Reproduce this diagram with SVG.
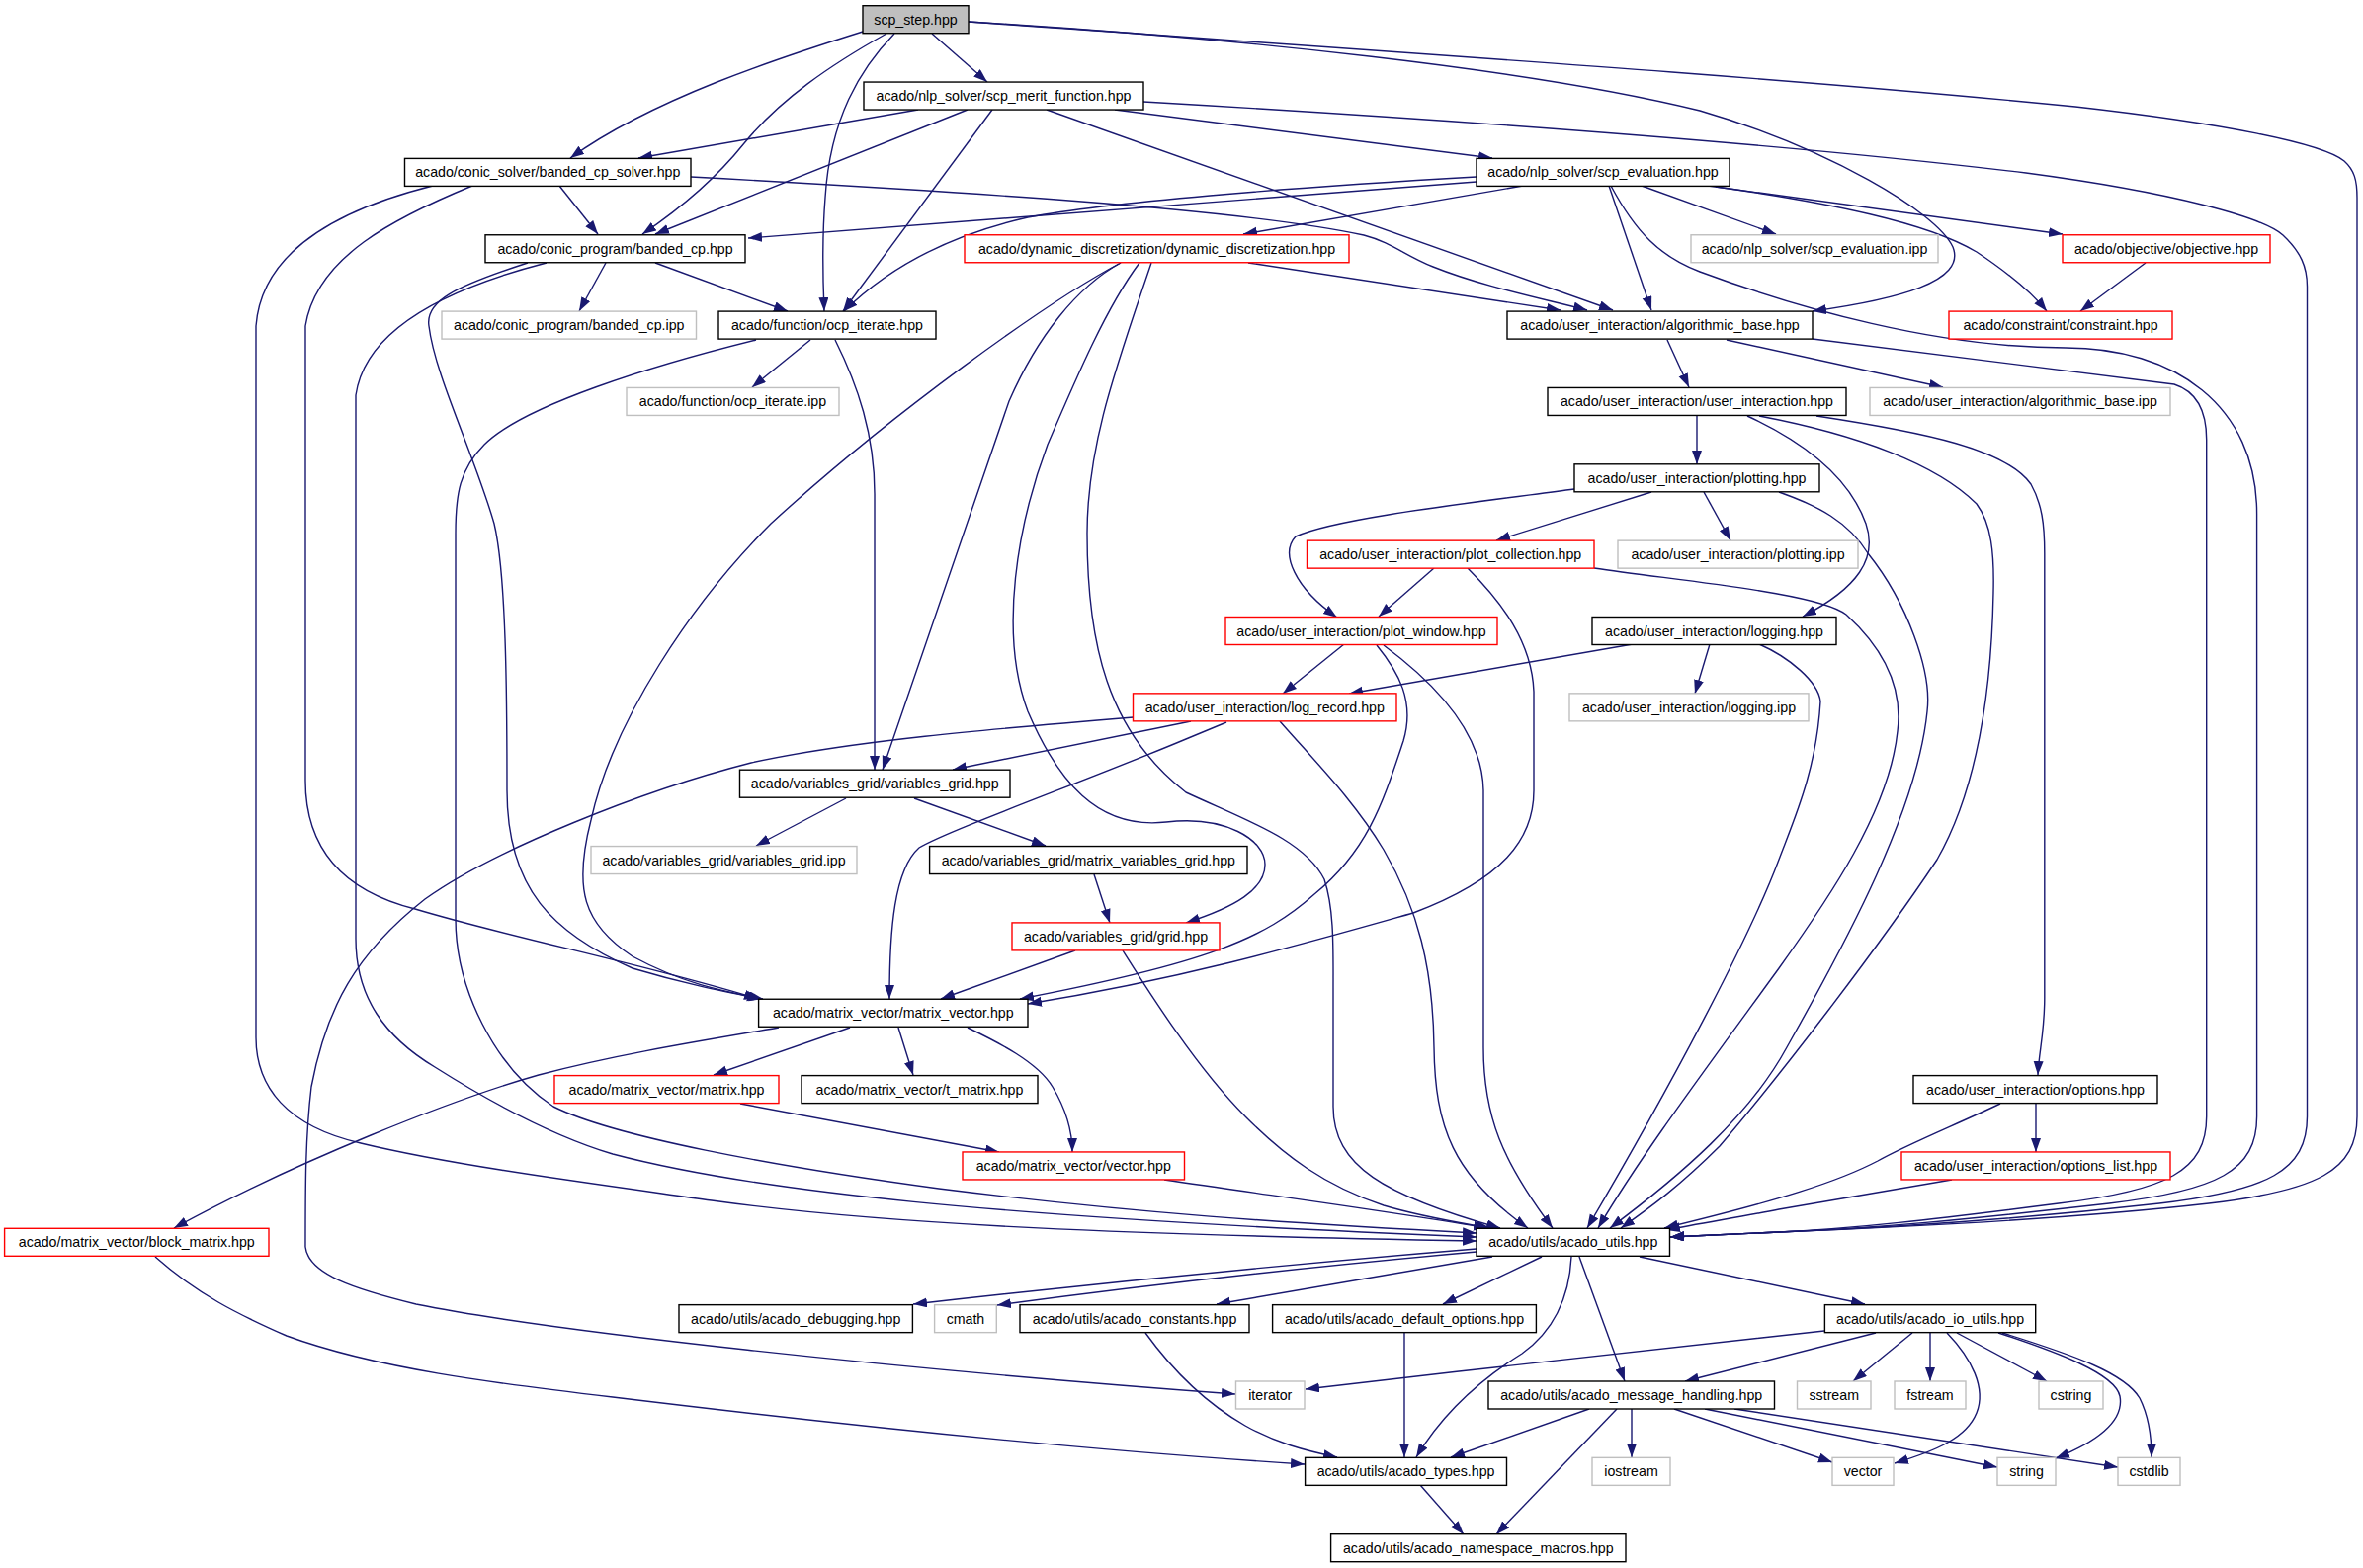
<svg xmlns="http://www.w3.org/2000/svg" width="2391" height="1587" viewBox="0 0 2391 1587">
<style>
.n rect{fill:#fff;stroke:#000;stroke-width:1.4}
.r rect{stroke:#ff0000}
.g rect{stroke:#bfbfbf}
.root rect{fill:#bfbfbf}
text{font-family:"Liberation Sans",Arial,sans-serif;font-size:14.2px;text-anchor:middle;fill:#000}
.e{fill:none;stroke:#191970;stroke-width:1.4;marker-end:url(#a)}
</style>
<defs>
<marker id="a" markerUnits="userSpaceOnUse" markerWidth="15" markerHeight="11" refX="14" refY="5" orient="auto"><path d="M0,0 L14,5 L0,10 z" fill="#191970"/></marker>
</defs>
<rect width="2391" height="1587" fill="#fff"/>
<g id="edges">
<path class="e" d="M873,32 C790,58 660,100 577,160"/>
<path class="e" d="M897,34 C840,66 790,100 753,145 C725,180 690,210 650,237"/>
<path class="e" d="M905,34 C870,70 840,120 835,200 C831,250 833,290 834,315"/>
<path class="e" d="M943,34 L999,83"/>
<path class="e" d="M980,22 C1250,38 1550,70 1720,112 C1850,150 1960,215 1976,250 C1990,285 1920,303 1834,315"/>
<path class="e" d="M980,22 C1400,52 1800,78 2100,108 C2250,125 2350,145 2372,163 C2382,172 2385,182 2385,200 L2385,1130 C2385,1185 2345,1205 2235,1218 C2085,1235 1900,1243 1800,1247 L1690,1252"/>
<path class="e" d="M1157,103 C1450,120 1800,145 2050,175 C2200,195 2290,220 2310,238 C2328,255 2334.5,270 2334.5,290 L2334.5,1130 C2334.5,1185 2295,1205 2185,1218 C2035,1235 1900,1243 1800,1247 L1690,1252"/>
<path class="e" d="M1630,188 C1655,235 1680,260 1720,275 C1820,312 1960,352 2090,352 C2200,352 2283.6,410 2283.6,520 L2283.6,1130 C2283.6,1185 2244,1205 2134,1218 C1984,1235 1900,1243 1800,1247 L1690,1252"/>
<path class="e" d="M1834,343 L2200,389 C2222,396 2232.7,415 2232.7,445 L2232.7,1130 C2232.7,1185 2193,1205 2083,1218 C1950,1235 1880,1243 1800,1247 L1690,1252"/>
<path class="e" d="M1838,421 C1950,438 2030,455 2055,490 C2066,510 2068.8,530 2068.8,560 L2068.8,1010 C2068.8,1045 2063,1065 2062,1088"/>
<path class="e" d="M929,111 L646,160"/>
<path class="e" d="M979,111 L663,237"/>
<path class="e" d="M1004,111 L853,315"/>
<path class="e" d="M1128,111 L1510,160"/>
<path class="e" d="M1059,111 L1632,314"/>
<path class="e" d="M566,188 L605,237"/>
<path class="e" d="M699,179 C950,193 1250,210 1380,238 C1410,246 1420,258 1450,270 C1500,290 1560,302 1606,314"/>
<path class="e" d="M478,188 C400,220 320,260 309,330 L309,790 C309,870 360,905 420,920 C520,950 650,975 767,1011"/>
<path class="e" d="M438,188 C350,210 265,250 259,330 L259,1050 C259,1100 290,1140 365,1157 C460,1180 600,1198 720,1215 C900,1240 1150,1250 1494,1256"/>
<path class="e" d="M613,266 L586,315"/>
<path class="e" d="M663,266 L797,315"/>
<path class="e" d="M534,266 C460,290 430,305 434,330 C440,380 480,460 500,530 C512,580 513,700 513,800 C513,900 560,945 640,980 C690,995 730,1003 770,1011"/>
<path class="e" d="M553,266 C460,290 370,330 360,400 L360,950 C360,1010 390,1050 440,1080 C500,1118 560,1150 620,1168 C760,1205 1000,1232 1494,1252"/>
<path class="e" d="M820,344 L761,392"/>
<path class="e" d="M845,344 C868,390 885,440 885,500 L885,779"/>
<path class="e" d="M765,344 C660,370 530,410 490,450 C465,475 461,500 461,540 L461,930 C461,1000 500,1080 560,1120 C620,1150 780,1180 950,1203 C1150,1228 1300,1238 1494,1248"/>
<path class="e" d="M1263,266 L1579,314"/>
<path class="e" d="M1134,266 C1060,305 900,420 780,530 C700,610 620,730 598,830 C580,900 590,935 640,968 C690,995 730,1003 772,1011"/>
<path class="e" d="M1134,266 C1090,290 1050,340 1021,406 L893,779"/>
<path class="e" d="M1153,266 C1120,310 1090,380 1060,450 C1030,530 1010,640 1040,720 C1070,790 1110,840 1180,832 C1240,825 1280,850 1280,875 C1280,900 1250,918 1200,934"/>
<path class="e" d="M1165,266 C1130,370 1100,450 1100,540 C1100,650 1120,740 1200,802 C1260,830 1320,850 1340,890 C1350,920 1349,960 1349,1000 L1349,1120 C1349,1180 1400,1210 1518,1243"/>
<path class="e" d="M1205,730 L964,779"/>
<path class="e" d="M1241,731 L1200,748 C1100,790 960,840 930,858 C905,880 900,940 900,1011"/>
<path class="e" d="M1147,726 C1000,738 860,750 760,772 C650,800 500,860 430,910 C360,965 330,1020 315,1100 C309,1150 309,1200 309,1262 C312,1290 360,1305 421,1320 C560,1348 900,1385 1250,1411"/>
<path class="e" d="M1295,730 C1330,770 1370,810 1400,860 C1435,920 1450,980 1451,1060 C1452,1140 1470,1190 1546,1243"/>
<path class="e" d="M1360,652 L1298,702"/>
<path class="e" d="M1393,653 C1415,680 1432,710 1420,750 C1400,810 1385,860 1330,905 C1280,950 1220,975 1032,1011"/>
<path class="e" d="M1400,653 C1450,690 1500,740 1501,800 L1501,1060 C1501,1130 1520,1175 1571,1243"/>
<path class="e" d="M1451,575 L1395,624"/>
<path class="e" d="M1485,575 C1520,610 1550,650 1552,700 L1552,800 C1552,850 1520,890 1430,924 C1320,955 1200,990 1040,1016"/>
<path class="e" d="M1613,575 C1700,588 1840,600 1868,622 C1910,660 1925,700 1920,740 C1912,820 1850,910 1800,980 C1720,1090 1660,1170 1617,1243"/>
<path class="e" d="M1593,495 C1480,510 1350,525 1311,543 C1295,560 1310,595 1353,625"/>
<path class="e" d="M1671,498 L1514,547"/>
<path class="e" d="M1724,498 L1751,547"/>
<path class="e" d="M1800,498 C1840,512 1870,528 1890,560 C1930,610 1955,680 1950,720 C1940,820 1870,950 1808,1060 C1770,1130 1700,1190 1629,1243"/>
<path class="e" d="M1652,652 L1365,702"/>
<path class="e" d="M1730,652 L1715,702"/>
<path class="e" d="M1780,652 C1810,665 1840,690 1842,710 C1838,780 1815,830 1800,870 C1770,950 1690,1100 1606,1243"/>
<path class="e" d="M1717,421 L1717,470"/>
<path class="e" d="M1768,421 C1820,445 1870,480 1888,530 C1900,565 1880,595 1824,624"/>
<path class="e" d="M1780,421 C1880,440 1960,470 2000,510 C2015,530 2018,560 2017,600 C2015,700 2000,800 1960,870 C1900,960 1800,1090 1740,1160 C1700,1200 1670,1222 1640,1243"/>
<path class="e" d="M1687,344 L1709,392"/>
<path class="e" d="M1747,344 L1966,392"/>
<path class="e" d="M1494,184 L757,241"/>
<path class="e" d="M1494,179 C1300,190 1120,205 1040,220 C960,238 900,270 854,315"/>
<path class="e" d="M1541,188 L1258,237"/>
<path class="e" d="M1628,188 L1671,314"/>
<path class="e" d="M1661,188 L1797,237"/>
<path class="e" d="M1728,188 L2087,237"/>
<path class="e" d="M1736,189 C1850,205 1950,225 2000,255 C2030,275 2055,295 2071,315"/>
<path class="e" d="M2171,266 L2105,315"/>
<path class="e" d="M1088,962 L952,1011"/>
<path class="e" d="M1136,962 C1160,1000 1210,1080 1260,1130 C1300,1170 1340,1200 1400,1220 C1440,1232 1480,1238 1508,1243"/>
<path class="e" d="M856,808 L765,856"/>
<path class="e" d="M925,808 L1058,856"/>
<path class="e" d="M1107,885 L1123,934"/>
<path class="e" d="M860,1040 L722,1088"/>
<path class="e" d="M909,1040 L924,1088"/>
<path class="e" d="M979,1040 C1010,1055 1050,1075 1065,1100 C1080,1125 1085,1145 1085,1166"/>
<path class="e" d="M788,1040 C700,1055 620,1068 545,1088 C460,1112 300,1175 176,1243"/>
<path class="e" d="M749,1117 L1011,1166"/>
<path class="e" d="M1178,1194 C1300,1212 1420,1228 1505,1243"/>
<path class="e" d="M157,1272 C200,1310 240,1330 290,1352 C380,1385 500,1400 620,1414 C850,1442 1100,1468 1320,1482"/>
<path class="e" d="M1494,1264 C1300,1280 1100,1300 924,1320"/>
<path class="e" d="M1494,1267 C1350,1280 1200,1295 1009,1321"/>
<path class="e" d="M1510,1272 L1231,1320"/>
<path class="e" d="M1560,1272 L1460,1320"/>
<path class="e" d="M1590,1272 C1588,1310 1575,1345 1540,1370 C1500,1395 1460,1430 1433,1475"/>
<path class="e" d="M1598,1272 L1644,1398"/>
<path class="e" d="M1659,1272 L1887,1320"/>
<path class="e" d="M1846,1347 C1700,1362 1500,1385 1321,1406"/>
<path class="e" d="M1898,1349 L1705,1398"/>
<path class="e" d="M1935,1349 L1875,1398"/>
<path class="e" d="M1953,1349 L1953,1398"/>
<path class="e" d="M1970,1349 C1995,1375 2010,1405 2000,1430 C1990,1455 1960,1468 1917,1481"/>
<path class="e" d="M1980,1349 L2071,1398"/>
<path class="e" d="M2022,1349 C2080,1368 2140,1390 2145,1413 C2150,1440 2120,1460 2080,1476"/>
<path class="e" d="M2026,1349 C2100,1372 2150,1390 2165,1415 C2175,1435 2177,1455 2177,1475"/>
<path class="e" d="M1608,1426 L1468,1475"/>
<path class="e" d="M1636,1426 L1514,1553"/>
<path class="e" d="M1651,1426 L1651,1475"/>
<path class="e" d="M1694,1426 L1854,1480"/>
<path class="e" d="M1725,1426 L2021,1485"/>
<path class="e" d="M1755,1426 L2143,1485"/>
<path class="e" d="M1437,1503 L1481,1553"/>
<path class="e" d="M1421,1349 L1421,1475"/>
<path class="e" d="M1159,1349 C1185,1385 1220,1420 1260,1443 C1290,1460 1320,1468 1353,1475"/>
<path class="e" d="M2060,1117 L2060,1166"/>
<path class="e" d="M2024,1117 C1980,1138 1930,1158 1900,1175 C1860,1196 1800,1215 1684,1243"/>
<path class="e" d="M1975,1194 L1800,1224 C1760,1232 1720,1238 1686,1245"/>
</g>
<g id="node-scp_step" class="n root"><rect x="873" y="5.7" width="107" height="28"/><text x="926.5" y="24.7">scp_step.hpp</text></g>
<g id="node-merit" class="n"><rect x="874" y="83.05" width="283" height="28"/><text x="1015.5" y="102.05">acado/nlp_solver/scp_merit_function.hpp</text></g>
<g id="node-solver" class="n"><rect x="409.5" y="160.4" width="289.5" height="28"/><text x="554.25" y="179.4">acado/conic_solver/banded_cp_solver.hpp</text></g>
<g id="node-evaluation" class="n"><rect x="1494" y="160.4" width="256" height="28"/><text x="1622" y="179.4">acado/nlp_solver/scp_evaluation.hpp</text></g>
<g id="node-banded_cp" class="n"><rect x="491" y="237.75" width="263" height="28"/><text x="622.5" y="256.75">acado/conic_program/banded_cp.hpp</text></g>
<g id="node-dyn_disc" class="n r"><rect x="976" y="237.75" width="389" height="28"/><text x="1170.5" y="256.75">acado/dynamic_discretization/dynamic_discretization.hpp</text></g>
<g id="node-eval_ipp" class="n g"><rect x="1711" y="237.75" width="250" height="28"/><text x="1836" y="256.75">acado/nlp_solver/scp_evaluation.ipp</text></g>
<g id="node-objective" class="n r"><rect x="2087" y="237.75" width="210" height="28"/><text x="2192" y="256.75">acado/objective/objective.hpp</text></g>
<g id="node-banded_cp_ipp" class="n g"><rect x="447" y="315.1" width="257.5" height="28"/><text x="575.75" y="334.1">acado/conic_program/banded_cp.ipp</text></g>
<g id="node-ocp_iterate" class="n"><rect x="727" y="315.1" width="220" height="28"/><text x="837" y="334.1">acado/function/ocp_iterate.hpp</text></g>
<g id="node-algo" class="n"><rect x="1525" y="315.1" width="309" height="28"/><text x="1679.5" y="334.1">acado/user_interaction/algorithmic_base.hpp</text></g>
<g id="node-constraint" class="n r"><rect x="1972" y="315.1" width="226" height="28"/><text x="2085" y="334.1">acado/constraint/constraint.hpp</text></g>
<g id="node-ocp_ipp" class="n g"><rect x="634" y="392.45" width="215" height="28"/><text x="741.5" y="411.45">acado/function/ocp_iterate.ipp</text></g>
<g id="node-ui" class="n"><rect x="1566" y="392.45" width="302" height="28"/><text x="1717" y="411.45">acado/user_interaction/user_interaction.hpp</text></g>
<g id="node-algo_ipp" class="n g"><rect x="1892" y="392.45" width="304" height="28"/><text x="2044" y="411.45">acado/user_interaction/algorithmic_base.ipp</text></g>
<g id="node-plotting" class="n"><rect x="1593" y="469.8" width="248" height="28"/><text x="1717" y="488.8">acado/user_interaction/plotting.hpp</text></g>
<g id="node-plot_collection" class="n r"><rect x="1322.5" y="547.15" width="290.5" height="28"/><text x="1467.75" y="566.15">acado/user_interaction/plot_collection.hpp</text></g>
<g id="node-plotting_ipp" class="n g"><rect x="1637" y="547.15" width="243" height="28"/><text x="1758.5" y="566.15">acado/user_interaction/plotting.ipp</text></g>
<g id="node-plot_window" class="n r"><rect x="1240" y="624.5" width="275" height="28"/><text x="1377.5" y="643.5">acado/user_interaction/plot_window.hpp</text></g>
<g id="node-logging" class="n"><rect x="1611" y="624.5" width="247" height="28"/><text x="1734.5" y="643.5">acado/user_interaction/logging.hpp</text></g>
<g id="node-log_record" class="n r"><rect x="1146.5" y="701.85" width="266.5" height="28"/><text x="1279.75" y="720.85">acado/user_interaction/log_record.hpp</text></g>
<g id="node-logging_ipp" class="n g"><rect x="1588" y="701.85" width="242" height="28"/><text x="1709" y="720.85">acado/user_interaction/logging.ipp</text></g>
<g id="node-variables_grid" class="n"><rect x="748.5" y="779.2" width="273.5" height="28"/><text x="885.25" y="798.2">acado/variables_grid/variables_grid.hpp</text></g>
<g id="node-vg_ipp" class="n g"><rect x="598" y="856.55" width="269" height="28"/><text x="732.5" y="875.55">acado/variables_grid/variables_grid.ipp</text></g>
<g id="node-mvg" class="n"><rect x="940.6" y="856.55" width="321.4" height="28"/><text x="1101.3" y="875.55">acado/variables_grid/matrix_variables_grid.hpp</text></g>
<g id="node-grid" class="n r"><rect x="1024" y="933.9" width="210" height="28"/><text x="1129" y="952.9">acado/variables_grid/grid.hpp</text></g>
<g id="node-matrix_vector" class="n"><rect x="767.6" y="1011.25" width="272.4" height="28"/><text x="903.8" y="1030.25">acado/matrix_vector/matrix_vector.hpp</text></g>
<g id="node-matrix" class="n r"><rect x="561" y="1088.6" width="227" height="28"/><text x="674.5" y="1107.6">acado/matrix_vector/matrix.hpp</text></g>
<g id="node-t_matrix" class="n"><rect x="811" y="1088.6" width="239" height="28"/><text x="930.5" y="1107.6">acado/matrix_vector/t_matrix.hpp</text></g>
<g id="node-options" class="n"><rect x="1936" y="1088.6" width="247" height="28"/><text x="2059.5" y="1107.6">acado/user_interaction/options.hpp</text></g>
<g id="node-vector" class="n r"><rect x="974" y="1165.95" width="224.5" height="28"/><text x="1086.25" y="1184.95">acado/matrix_vector/vector.hpp</text></g>
<g id="node-options_list" class="n r"><rect x="1924" y="1165.95" width="272" height="28"/><text x="2060" y="1184.95">acado/user_interaction/options_list.hpp</text></g>
<g id="node-block_matrix" class="n r"><rect x="4.6" y="1243.3" width="267.4" height="28"/><text x="138.3" y="1262.3">acado/matrix_vector/block_matrix.hpp</text></g>
<g id="node-utils" class="n"><rect x="1494" y="1243.3" width="195.5" height="28"/><text x="1591.75" y="1262.3">acado/utils/acado_utils.hpp</text></g>
<g id="node-debugging" class="n"><rect x="687" y="1320.65" width="236.4" height="28"/><text x="805.2" y="1339.65">acado/utils/acado_debugging.hpp</text></g>
<g id="node-cmath" class="n g"><rect x="945.6" y="1320.65" width="62.7" height="28"/><text x="976.95" y="1339.65">cmath</text></g>
<g id="node-constants" class="n"><rect x="1032" y="1320.65" width="232" height="28"/><text x="1148" y="1339.65">acado/utils/acado_constants.hpp</text></g>
<g id="node-default_options" class="n"><rect x="1287.6" y="1320.65" width="266.8" height="28"/><text x="1421" y="1339.65">acado/utils/acado_default_options.hpp</text></g>
<g id="node-io_utils" class="n"><rect x="1846.4" y="1320.65" width="213.3" height="28"/><text x="1953.05" y="1339.65">acado/utils/acado_io_utils.hpp</text></g>
<g id="node-iterator" class="n g"><rect x="1250.5" y="1398" width="69.5" height="28"/><text x="1285.25" y="1417">iterator</text></g>
<g id="node-mh" class="n"><rect x="1506" y="1398" width="289.5" height="28"/><text x="1650.75" y="1417">acado/utils/acado_message_handling.hpp</text></g>
<g id="node-sstream" class="n g"><rect x="1818.5" y="1398" width="74.5" height="28"/><text x="1855.75" y="1417">sstream</text></g>
<g id="node-fstream" class="n g"><rect x="1917" y="1398" width="72" height="28"/><text x="1953" y="1417">fstream</text></g>
<g id="node-cstring" class="n g"><rect x="2063" y="1398" width="65" height="28"/><text x="2095.5" y="1417">cstring</text></g>
<g id="node-types" class="n"><rect x="1320.6" y="1475.35" width="203.9" height="28"/><text x="1422.55" y="1494.35">acado/utils/acado_types.hpp</text></g>
<g id="node-iostream" class="n g"><rect x="1611" y="1475.35" width="79" height="28"/><text x="1650.5" y="1494.35">iostream</text></g>
<g id="node-vector_std" class="n g"><rect x="1854" y="1475.35" width="62" height="28"/><text x="1885" y="1494.35">vector</text></g>
<g id="node-string" class="n g"><rect x="2021" y="1475.35" width="59" height="28"/><text x="2050.5" y="1494.35">string</text></g>
<g id="node-cstdlib" class="n g"><rect x="2143" y="1475.35" width="63" height="28"/><text x="2174.5" y="1494.35">cstdlib</text></g>
<g id="node-namespace" class="n"><rect x="1346.6" y="1552.7" width="298.4" height="28"/><text x="1495.8" y="1571.7">acado/utils/acado_namespace_macros.hpp</text></g>
</svg>
